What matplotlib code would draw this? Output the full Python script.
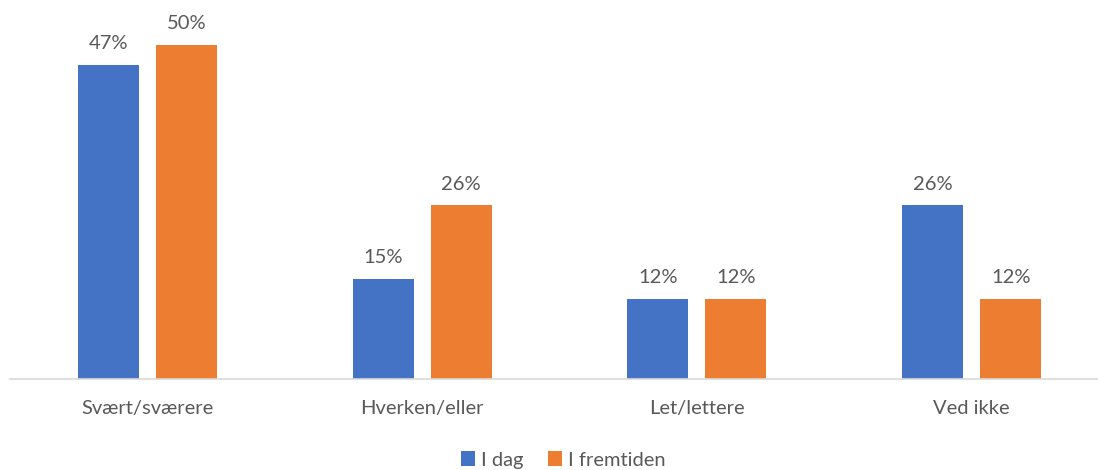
import matplotlib.pyplot as plt
import numpy as np

categories = ["Svært/sværere", "Hverken/eller", "Let/lettere", "Ved ikke"]
series_names = ["I dag", "I fremtiden"]
i_dag = [47, 15, 12, 26]
i_fremtiden = [50, 26, 12, 12]

blue = "#4472C4"
orange = "#ED7D31"
grey = "#595959"

plt.rcParams['font.family'] = ['Lato', 'DejaVu Sans']

fig = plt.figure(figsize=(10.98, 4.70), dpi=100)
# axes placed in pixel terms: baseline at y=379, left edge at x=10
ax = fig.add_axes([10 / 1098, 1 - 379 / 470, (1109 - 10) / 1098, (379 - 10) / 470])

x = np.arange(len(categories))
w = 0.222
off = 0.142
b1 = ax.bar(x - off, i_dag, w, color=blue, label=series_names[0])
b2 = ax.bar(x + off, i_fremtiden, w, color=orange, label=series_names[1])

for bars in (b1, b2):
    for rect in bars:
        h = rect.get_height()
        ax.annotate(f"{h:.0f}%", (rect.get_x() + rect.get_width() / 2, h),
                    xytext=(0, 9), textcoords="offset points",
                    ha="center", va="bottom", fontsize=14.5, color=grey)

ax.set_xlim(-0.5, 3.5)
ax.set_ylim(0, 55.2)
ax.set_yticks([])
ax.set_xticks(x)
ax.set_xticklabels(categories, fontsize=14.5, color=grey)
ax.tick_params(axis="x", length=0, pad=15)
for s in ["top", "right", "left"]:
    ax.spines[s].set_visible(False)
ax.spines["bottom"].set_color("#D9D9D9")
ax.spines["bottom"].set_linewidth(1.2)

fig.legend(handles=[b1, b2], loc="center", bbox_to_anchor=(563 / 1098, 1 - 460 / 470),
           ncol=2, frameon=False, fontsize=14.5, labelcolor=grey,
           handlelength=0.7, handleheight=0.7, handletextpad=0.3, columnspacing=1.2)

fig.savefig("out.png", dpi=100)
